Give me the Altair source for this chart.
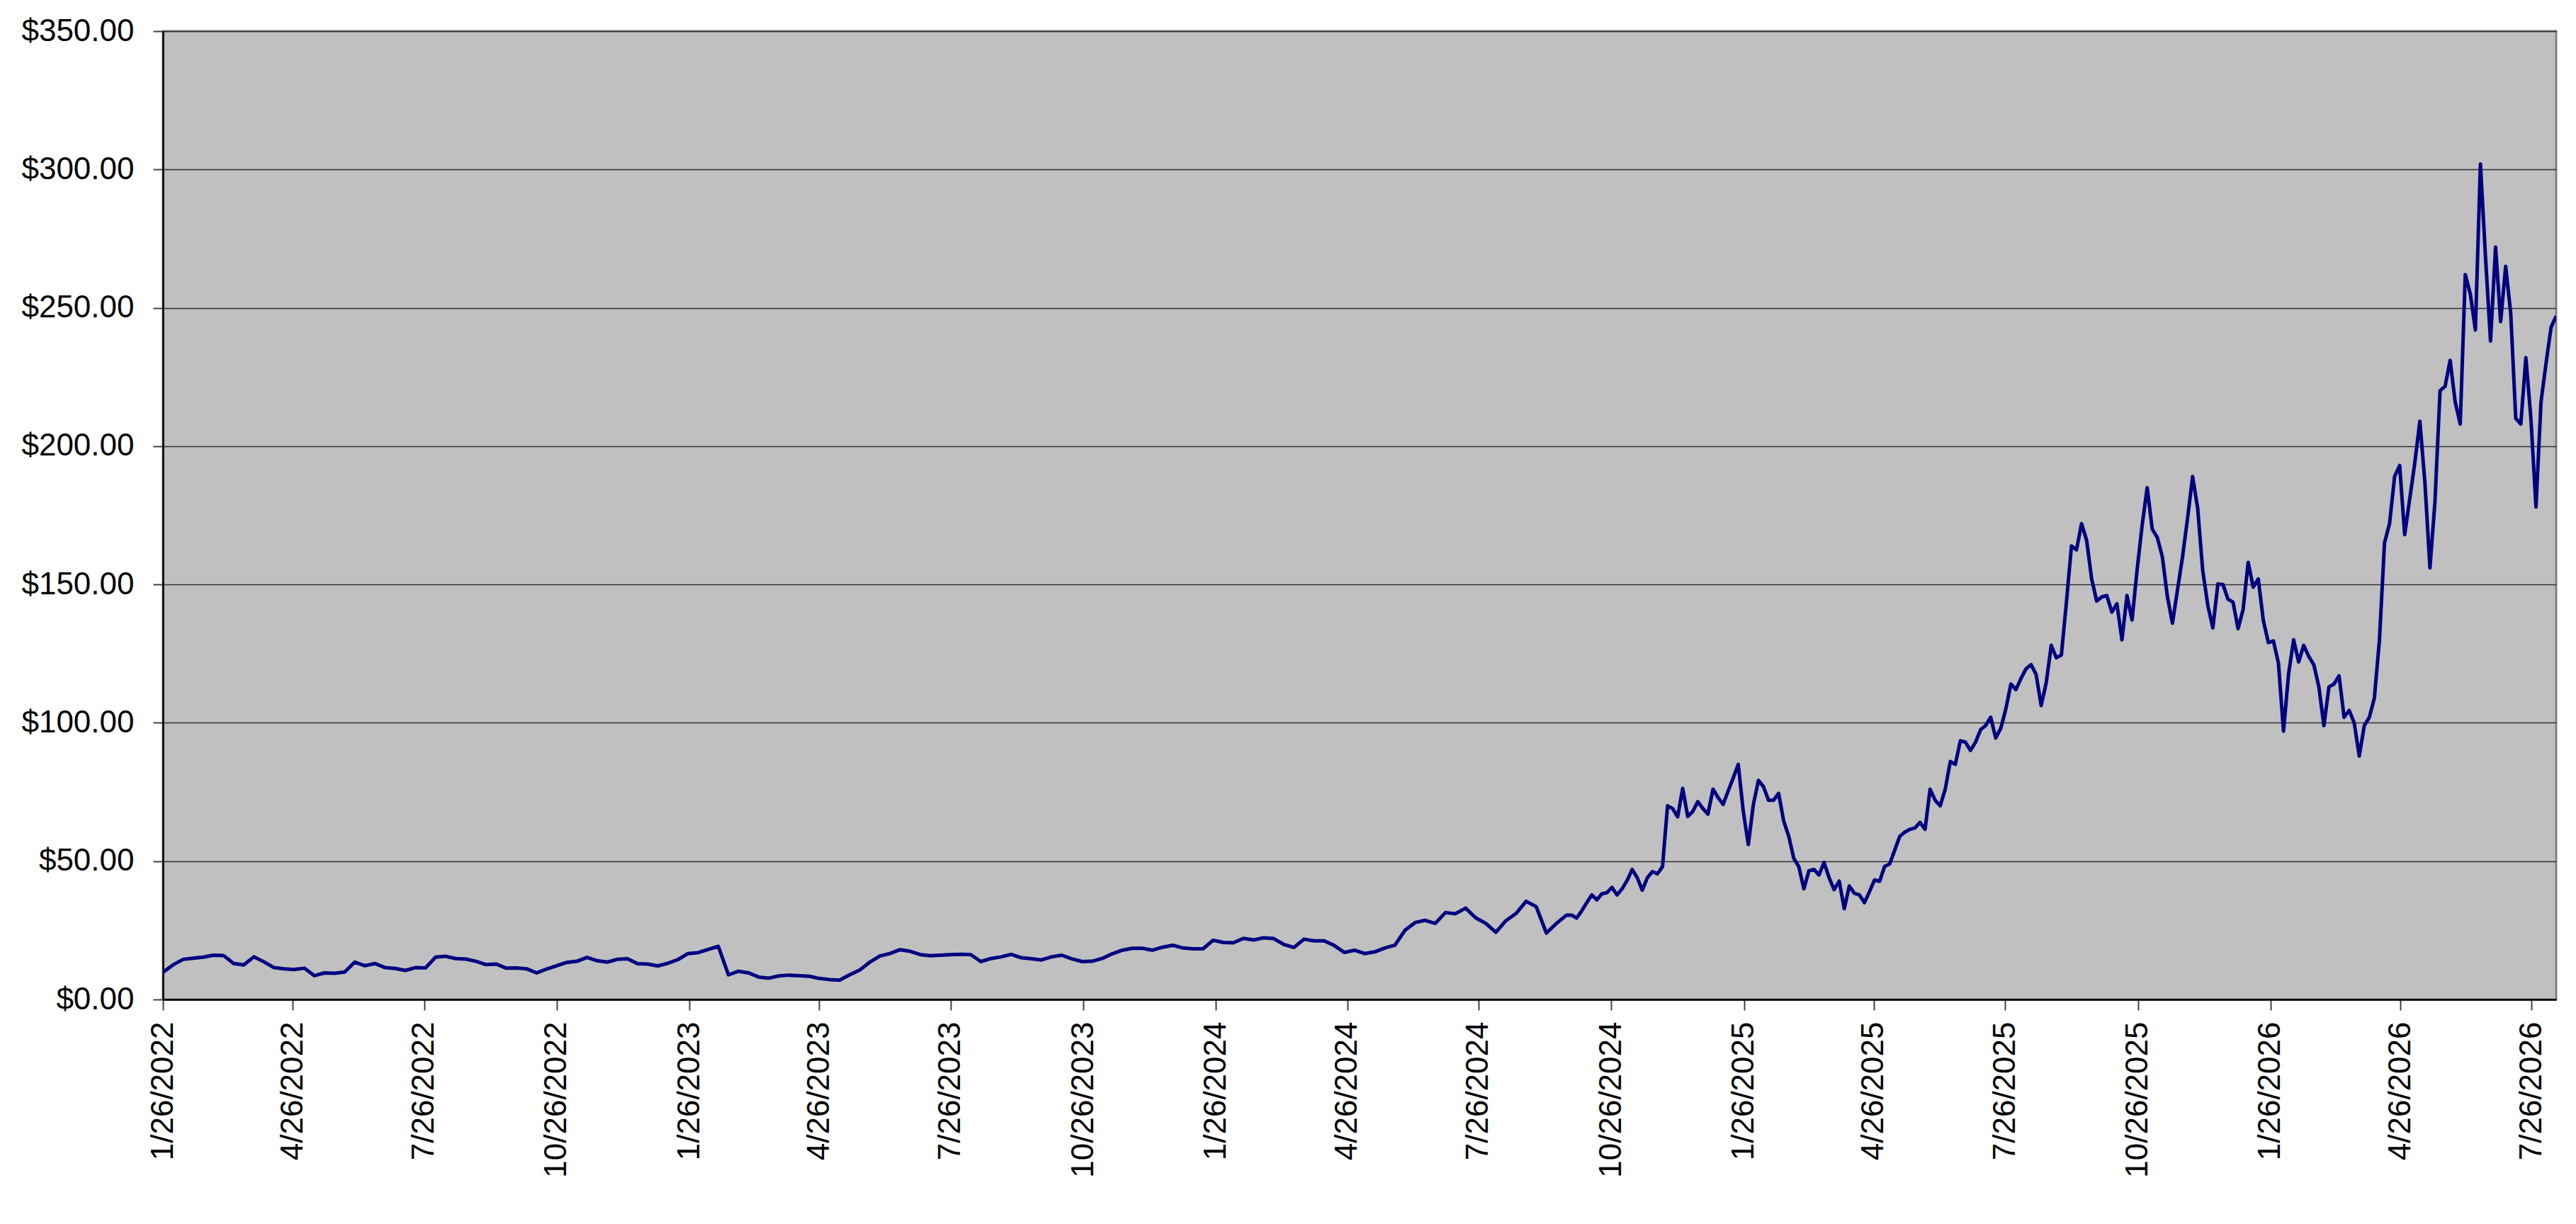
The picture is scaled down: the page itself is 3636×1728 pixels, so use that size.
import altair as alt
import pandas as pd

# Prices.
# Weekly readings from 1/26/2022 ...
FIRST_WEEK = "2022-01-26"

weekly_2022_early_2023 = [
    9.8, 12.5, 14.5, 14.9, 15.3, 16.0, 15.9, 13.0, 12.5, 15.4,
    13.6, 11.5, 11.1, 10.8, 11.3, 8.6, 9.6, 9.5, 9.9, 13.5,
    12.2, 13.0, 11.5, 11.2, 10.5, 11.5, 11.4, 15.3, 15.6, 14.8,
    14.6, 13.8, 12.6, 12.8, 11.3, 11.4, 11.1, 9.6, 11.0, 12.2,
    13.4, 13.8, 15.2, 14.0, 13.5, 14.5, 14.7, 12.9, 12.8, 12.1,
    13.1, 14.4, 16.6, 16.9, 18.1, 19.2, 8.9, 10.2, 9.6, 8.1,
    7.7, 8.5, 8.8, 8.6, 8.4, 7.6, 7.2, 7.0, 8.9, 10.6,
]

weekly_mid_2023_2024 = [
    13.5, 15.7, 16.6, 18.0, 17.4, 16.2, 15.8, 16.0, 16.2, 16.3,
    16.2, 13.7, 14.8, 15.4, 16.3, 15.1, 14.7, 14.3, 15.4, 16.0,
    14.7, 13.7, 13.8, 14.8, 16.5, 17.8, 18.5, 18.5, 17.8, 18.9,
    19.6, 18.6, 18.3, 18.3, 21.4, 20.6, 20.5, 22.1, 21.5, 22.3,
    22.0, 19.9, 18.8, 21.8, 21.2, 21.2, 19.5, 17.0, 17.8, 16.6,
    17.2, 18.6, 19.6, 25.0, 27.8, 28.6, 27.5, 31.4, 31.0, 33.0,
    29.5, 27.5, 24.3, 28.5, 31.1, 35.5, 33.5, 24.0, 27.5,
]

# ... then twice-weekly readings for the volatile stretch (from early Oct 2024)
semiweekly_late_2024_2025 = [
    30.5, 30.5, 29.4, 32.0, 35.0, 37.8, 36.0, 38.2, 38.6, 40.5,
    37.8, 40.0, 43.0, 47.0, 44.0, 39.5, 44.0, 46.2, 45.4, 48.0,
    70.0, 69.0, 66.0, 76.3, 66.1, 68.0, 71.5, 69.0, 67.0, 76.0,
    73.0, 70.5, 75.3, 80.0, 85.0, 68.0, 56.0, 70.5, 79.2, 76.9,
    72.0, 72.0, 74.5, 64.5, 59.0, 51.0, 48.0, 40.0, 46.5, 47.0,
    45.0, 49.5, 44.0, 39.7, 42.8, 32.8, 41.0, 38.4, 37.8, 35.0,
    39.0, 43.2, 42.7, 48.1, 49.0, 54.0, 59.0, 60.5, 61.5, 62.0,
]

semiweekly_mid_late_2025 = [
    64.0, 61.5, 76.0, 72.0, 70.0, 76.0, 86.0, 85.0, 93.5, 93.0,
    90.0, 93.0, 97.5, 99.0, 102.0, 94.5, 98.0, 105.0, 114.0, 112.0,
    116.0, 119.5, 121.0, 117.5, 106.2, 114.5, 128.0, 123.5, 124.5, 143.5,
    163.9, 162.5, 172.0, 166.0, 152.0, 144.0, 145.5, 146.0, 140.0, 143.0,
    130.0, 146.0, 137.2, 155.3, 171.4, 185.0, 170.0, 167.0, 160.0, 145.6,
    136.0, 148.0, 160.0, 174.0, 189.0, 177.5, 155.0, 142.5, 134.3, 150.2,
    150.0, 144.7,
]

semiweekly_2026 = [
    143.6, 134.0, 141.0, 158.0, 149.0, 152.0, 137.0, 129.0, 129.6, 121.5,
    97.0, 117.6, 130.0, 122.0, 128.0, 124.0, 121.0, 113.0, 99.0, 113.0,
    114.0, 117.0, 102.0, 104.5, 100.0, 88.0, 99.0, 102.0, 109.0, 130.0,
    165.0, 172.0, 189.0, 193.0, 168.0, 181.0, 194.0, 209.0, 187.0, 156.0,
    180.0, 220.0, 221.6, 231.0, 216.0, 208.0, 262.0, 255.0, 242.0, 302.0,
    268.5, 238.0, 272.0, 245.0, 265.0, 248.0, 210.0, 208.0, 232.0, 210.0,
    178.0, 216.0, 230.0, 243.0, 247.0,
]

AXIS_START = "2022-01-26"
AXIS_END = "2026-08-12"
TICK_DATES = [
    "2022-01-26", "2022-04-26", "2022-07-26", "2022-10-26",
    "2023-01-26", "2023-04-26", "2023-07-26", "2023-10-26",
    "2024-01-26", "2024-04-26", "2024-07-26", "2024-10-26",
    "2025-01-26", "2025-04-26", "2025-07-26", "2025-10-26",
    "2026-01-26", "2026-04-26", "2026-07-26",
]
Y_TICKS = [0, 50, 100, 150, 200, 250, 300, 350]

weekly = weekly_2022_early_2023 + weekly_mid_2023_2024
semiweekly = semiweekly_late_2024_2025 + semiweekly_mid_late_2025 + semiweekly_2026

weekly_dates = pd.date_range(FIRST_WEEK, periods=len(weekly), freq="7D")
semi_start = pd.Timestamp(FIRST_WEEK) + pd.Timedelta(weeks=len(weekly))
semi_dates = pd.date_range(semi_start, periods=len(semiweekly), freq="84h")

df = pd.DataFrame({
    "date": list(weekly_dates.strftime("%Y/%m/%d %H:%M")) + list(semi_dates.strftime("%Y/%m/%d %H:%M")),
    "price": weekly + semiweekly,
})


def dt(s):
    t = pd.Timestamp(s)
    return alt.DateTime(year=t.year, month=t.month, date=t.day)


FONT = "Liberation Sans"

chart = alt.Chart(df).mark_line(color="#000080", strokeWidth=5, clip=True,
                                strokeJoin="round").encode(
    x=alt.X(
        "date:T",
        title=None,
        scale=alt.Scale(domain=[dt(AXIS_START), dt(AXIS_END)], nice=False),
        axis=alt.Axis(
            values=[dt(s) for s in TICK_DATES],
            format="%-m/%-d/%Y",
            labelAngle=270,
            labelAlign="right",
            labelBaseline="middle",
            labelFont=FONT,
            labelFontSize=44,
            labelColor="#000000",
            labelPadding=16,
            labelOverlap=False,
            labelFlush=False,
            labelLimit=0,
            tickSize=15,
            tickWidth=2,
            tickColor="#404040",
            domainColor="#000000",
            domainWidth=2.5,
            grid=False,
        ),
    ),
    y=alt.Y(
        "price:Q",
        title=None,
        scale=alt.Scale(domain=[0, 350], nice=False, zero=True),
        axis=alt.Axis(
            values=Y_TICKS,
            format="$,.2f",
            labelFont=FONT,
            labelFontSize=44,
            labelColor="#000000",
            labelPadding=27,
            labelOverlap=False,
            labelFlush=False,
            labelLimit=0,
            tickSize=14,
            tickWidth=2,
            tickColor="#404040",
            domainColor="#000000",
            domainWidth=2.5,
            grid=True,
            gridColor="#303030",
            gridWidth=1.3,
        ),
    ),
).properties(
    width=3378,
    height=1367,
    autosize=alt.AutoSizeParams(type="none"),
    padding={"left": 222, "top": 36, "right": 20, "bottom": 309},
    background="#ffffff",
).configure_view(
    fill="#C0C0C0",
    stroke="#808080",
    strokeWidth=3,
)

chart.save("out.html", embed_options={"renderer": "svg", "actions": False})
